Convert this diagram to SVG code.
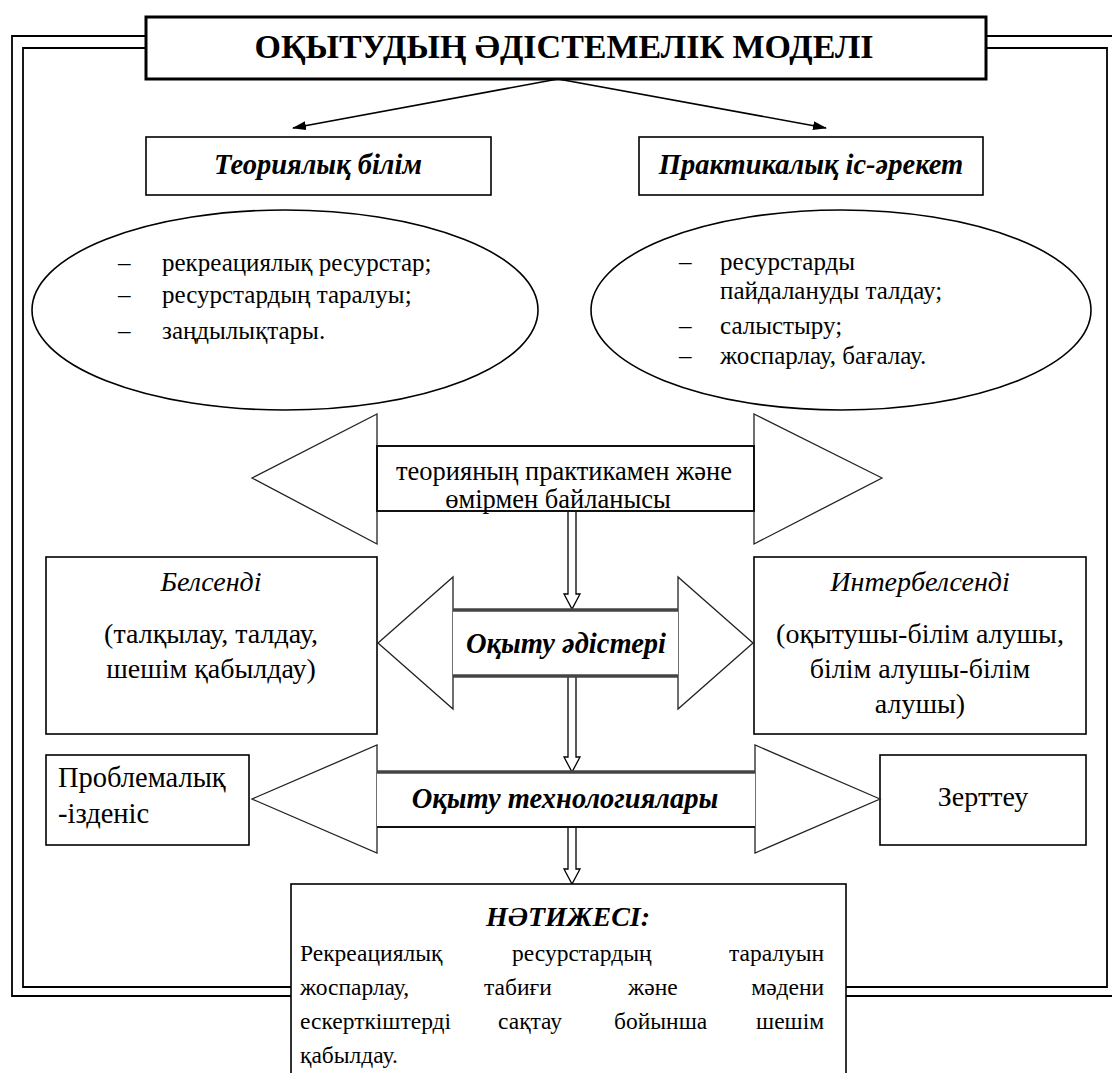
<svg xmlns="http://www.w3.org/2000/svg" width="1112" height="1073" viewBox="0 0 1112 1073">
<style>
.t{font-family:"Liberation Serif","Times New Roman",serif;fill:#000}
.b{font-weight:bold}
.i{font-style:italic}
.ln{fill:none;stroke:#000;stroke-width:1.8}
.box{fill:#fff;stroke:#000;stroke-width:1.6}
.shape{fill:#fff;stroke:#222;stroke-width:1.3}
.hv{fill:#fff;stroke:#000;stroke-width:1.3}
.thick{stroke:#444;stroke-width:3.5}
</style>
<defs>
<marker id="ah" markerWidth="14" markerHeight="9" refX="13" refY="4.5" orient="auto" markerUnits="userSpaceOnUse">
<path d="M0,0 L14,4.5 L0,9 Z" fill="#000"/>
</marker>
</defs>
<rect width="1112" height="1073" fill="#fff"/>

<g id="frame">
<path class="ln" d="M146,36 H12 V996 H291 M846,996 H1115 M986,36 H1115"/>
<path class="ln" d="M146,48 H23 V987 H291 M846,987 H1107 V48 H986"/>
</g>

<g id="connectors">
<line x1="558" y1="79" x2="293" y2="128" stroke="#000" stroke-width="1.6" marker-end="url(#ah)"/>
<line x1="558" y1="79" x2="826" y2="128" stroke="#000" stroke-width="1.6" marker-end="url(#ah)"/>
<polygon class="hv" points="568,511 576,511 576,594 580,594 572,609 564,594 568,594"/>
<polygon class="hv" points="568,676 576,676 576,757 580,757 572,772 564,757 568,757"/>
<polygon class="hv" points="568,827 576,827 576,869 580,869 572,884 564,869 568,869"/>
</g>

<g id="title">
<rect x="146" y="17" width="840" height="62" fill="#fff" stroke="#000" stroke-width="3"/>
<text class="t b" x="564" y="58" font-size="34" text-anchor="middle">ОҚЫТУДЫҢ ӘДІСТЕМЕЛІК МОДЕЛІ</text>
</g>

<g id="theory">
<rect class="box" x="146" y="137" width="345" height="58"/>
<text class="t b i" x="318" y="174" font-size="28.5" text-anchor="middle">Теориялық білім</text>
</g>

<g id="practice">
<rect class="box" x="639" y="137" width="344" height="58"/>
<text class="t b i" x="811" y="174" font-size="28.5" text-anchor="middle">Практикалық іс-әрекет</text>
</g>

<g id="ellipse-left">
<ellipse class="box" cx="285" cy="310" rx="253" ry="100"/>
<text class="t" font-size="25">
<tspan x="118" y="271">–</tspan><tspan x="162" y="271">рекреациялық ресурстар;</tspan>
<tspan x="118" y="303">–</tspan><tspan x="162" y="303">ресурстардың таралуы;</tspan>
<tspan x="118" y="339">–</tspan><tspan x="162" y="339">заңдылықтары.</tspan>
</text>
</g>

<g id="ellipse-right">
<ellipse class="box" cx="841" cy="310" rx="250" ry="100"/>
<text class="t" font-size="25">
<tspan x="679" y="270">–</tspan><tspan x="720" y="270">ресурстарды</tspan>
<tspan x="720" y="299">пайдалануды талдау;</tspan>
<tspan x="679" y="334">–</tspan><tspan x="720" y="334">салыстыру;</tspan>
<tspan x="679" y="364">–</tspan><tspan x="720" y="364">жоспарлау, бағалау.</tspan>
</text>
</g>

<g id="link-arrow">
<polygon class="shape" points="252,478 377,414 377,544"/>
<polygon class="shape" points="882,478 754,414 754,544"/>
<rect x="377" y="446" width="377" height="65" fill="#fff" stroke="#111" stroke-width="2"/>
<text class="t" font-size="26.5" text-anchor="middle"><tspan x="564" y="480">теорияның практикамен және</tspan><tspan x="558" y="508">өмірмен байланысы</tspan></text>
</g>

<g id="belsendi">
<rect class="box" x="46" y="557" width="331" height="177"/>
<text class="t i" x="211" y="591" font-size="28" text-anchor="middle">Белсенді</text>
<text class="t" font-size="28" text-anchor="middle"><tspan x="211" y="643">(талқылау, талдау,</tspan><tspan x="211" y="678">шешім қабылдау)</tspan></text>
</g>

<g id="interbelsendi">
<rect class="box" x="754" y="557" width="332" height="177"/>
<text class="t i" x="920" y="591" font-size="28" text-anchor="middle">Интербелсенді</text>
<text class="t" font-size="28" text-anchor="middle"><tspan x="920" y="643">(оқытушы-білім алушы,</tspan><tspan x="920" y="678">білім алушы-білім</tspan><tspan x="920" y="713">алушы)</tspan></text>
</g>

<g id="methods-arrow">
<polygon class="shape" points="378,643 453,577 453,709"/>
<polygon class="shape" points="753,643 678,577 678,709"/>
<rect x="453" y="610" width="225" height="66" fill="#fff" stroke="none"/>
<line class="thick" x1="453" y1="610" x2="678" y2="610"/>
<line class="thick" x1="453" y1="676" x2="678" y2="676"/>
<text class="t b i" x="566" y="653" font-size="28.5" text-anchor="middle">Оқыту әдістері</text>
</g>

<g id="problem">
<rect class="box" x="46" y="755" width="203" height="90"/>
<text class="t" font-size="28.5"><tspan x="58" y="787">Проблемалық</tspan><tspan x="58" y="823">-ізденіс</tspan></text>
</g>

<g id="zerttey">
<rect class="box" x="880" y="755" width="206" height="90"/>
<text class="t" x="983" y="806" font-size="28" text-anchor="middle">Зерттеу</text>
</g>

<g id="tech-arrow">
<polygon class="shape" points="252,799 377,745 377,853"/>
<polygon class="shape" points="880,799 755,745 755,853"/>
<rect x="377" y="772" width="378" height="55" fill="#fff" stroke="none"/>
<line class="thick" x1="377" y1="772" x2="755" y2="772"/>
<line x1="377" y1="827" x2="755" y2="827" stroke="#111" stroke-width="2"/>
<text class="t b i" x="565" y="808" font-size="28.5" text-anchor="middle">Оқыту технологиялары</text>
</g>

<g id="result">
<rect class="box" x="291" y="884" width="555" height="200"/>
<text class="t b i" x="568" y="926" font-size="28" text-anchor="middle">НӘТИЖЕСІ:</text>
<text class="t" font-size="23.5">
<tspan x="300" y="961">Рекреациялық</tspan><tspan x="512" y="961">ресурстардың</tspan><tspan x="830" y="961" text-anchor="end">таралуын</tspan>
<tspan x="300" y="995">жоспарлау,</tspan><tspan x="484" y="995">табиғи</tspan><tspan x="628" y="995">және</tspan><tspan x="830" y="995" text-anchor="end">мәдени</tspan>
<tspan x="300" y="1029">ескерткіштерді</tspan><tspan x="498" y="1029">сақтау</tspan><tspan x="614" y="1029">бойынша</tspan><tspan x="830" y="1029" text-anchor="end">шешім</tspan>
<tspan x="300" y="1063">қабылдау.</tspan>
</text>
</g>
</svg>
